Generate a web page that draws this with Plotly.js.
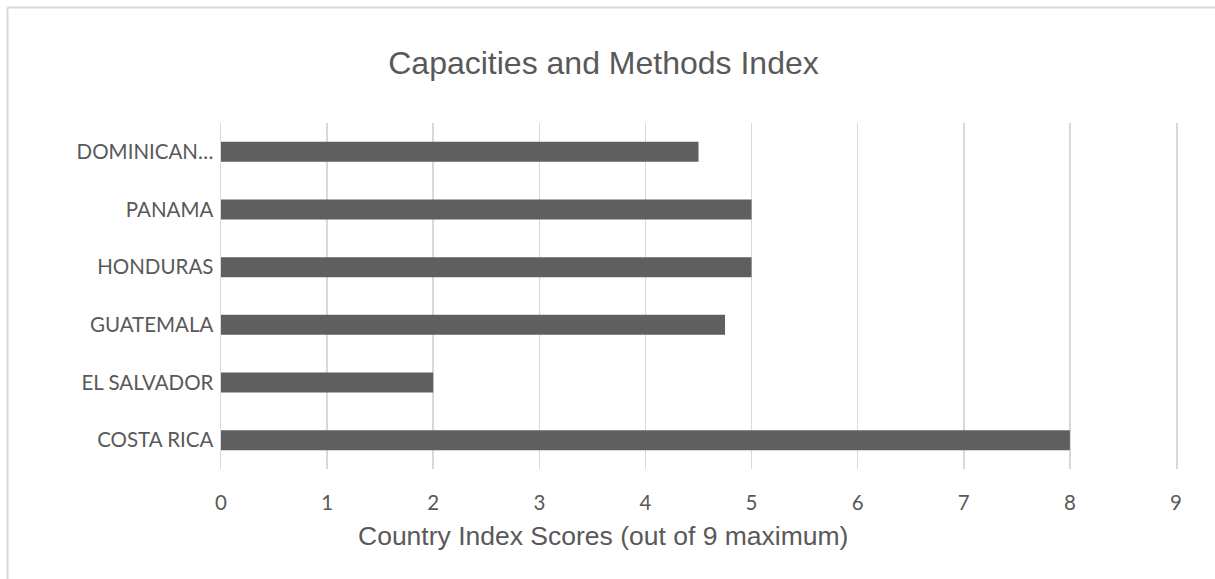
<!DOCTYPE html>
<html>
<head>
<meta charset="utf-8">
<script src="https://cdn.plot.ly/plotly-3.0.1.min.js"></script>
<style>
  html, body { margin: 0; padding: 0; background: #ffffff; }
  #chart { width: 1215px; height: 579px; }
</style>
</head>
<body>
<div id="chart"></div>
<script>
// Data
const countries = ["COSTA RICA", "EL SALVADOR", "GUATEMALA", "HONDURAS", "PANAMA", "DOMINICAN\u2026"];
const scores = [8, 2, 4.75, 5, 5, 4.5];
const xTicks = [0, 1, 2, 3, 4, 5, 6, 7, 8, 9];
const chartTitle = "Capacities and Methods Index";
const xTitle = "Country Index Scores (out of 9 maximum)";

const W = 1215, H = 579;
const M = { l: 221, r: 39, t: 123, b: 110 };
const plotW = W - M.l - M.r, plotH = H - M.t - M.b;
// convert page pixel to paper coordinates (for the outer chart border / titles)
const px = x => (x - M.l) / plotW;
const py = y => (H - M.b - y) / plotH;

const grey = "#595959";
const gridGrey = "#d9d9d9";

const trace = {
  type: "bar",
  orientation: "h",
  x: scores,
  y: countries,
  marker: { color: "#5f5f5f", line: { width: 0 } },
  hoverinfo: "x+y"
};

const layout = {
  width: W,
  height: H,
  margin: M,
  paper_bgcolor: "#ffffff",
  plot_bgcolor: "#ffffff",
  showlegend: false,
  bargap: 0.653,
  title: {
    text: chartTitle,
    font: { family: "Liberation Sans, Arial, sans-serif", size: 32, color: grey },
    x: 603.5 / W,
    xref: "container",
    xanchor: "center",
    y: 1 - 63 / H,
    yref: "container",
    yanchor: "middle"
  },
  xaxis: {
    range: [0, 9],
    tickvals: xTicks,
    ticktext: xTicks.map(String),
    showgrid: true,
    gridcolor: gridGrey,
    gridwidth: 1.5,
    zeroline: false,
    showline: false,
    ticks: "",
    ticklabelstandoff: 19,
    tickfont: { family: "Lato, sans-serif", size: 20.5, color: grey },
    fixedrange: true
  },
  yaxis: {
    type: "category",
    categoryorder: "array",
    categoryarray: countries,
    showgrid: false,
    zeroline: false,
    showline: true,
    mirror: true,
    linecolor: gridGrey,
    linewidth: 1.5,
    ticks: "",
    ticklabelstandoff: 2,
    tickfont: { family: "Lato, sans-serif", size: 20.5, color: grey },
    fixedrange: true
  },
  annotations: [
    {
      text: xTitle,
      xref: "paper", yref: "paper",
      x: px(603), y: py(536),
      xanchor: "center", yanchor: "middle",
      showarrow: false,
      font: { family: "Liberation Sans, Arial, sans-serif", size: 26.5, color: grey }
    }
  ],
  shapes: [
    { type: "line", xref: "paper", yref: "paper", x0: px(7.5), x1: px(W + 5), y0: py(7.5), y1: py(7.5),
      line: { color: gridGrey, width: 2 } },
    { type: "line", xref: "paper", yref: "paper", x0: px(7.5), x1: px(7.5), y0: py(7.5), y1: py(H + 5),
      line: { color: gridGrey, width: 2 } }
  ]
};

Plotly.newPlot("chart", [trace], layout, { displayModeBar: false, staticPlot: true });
</script>
</body>
</html>
